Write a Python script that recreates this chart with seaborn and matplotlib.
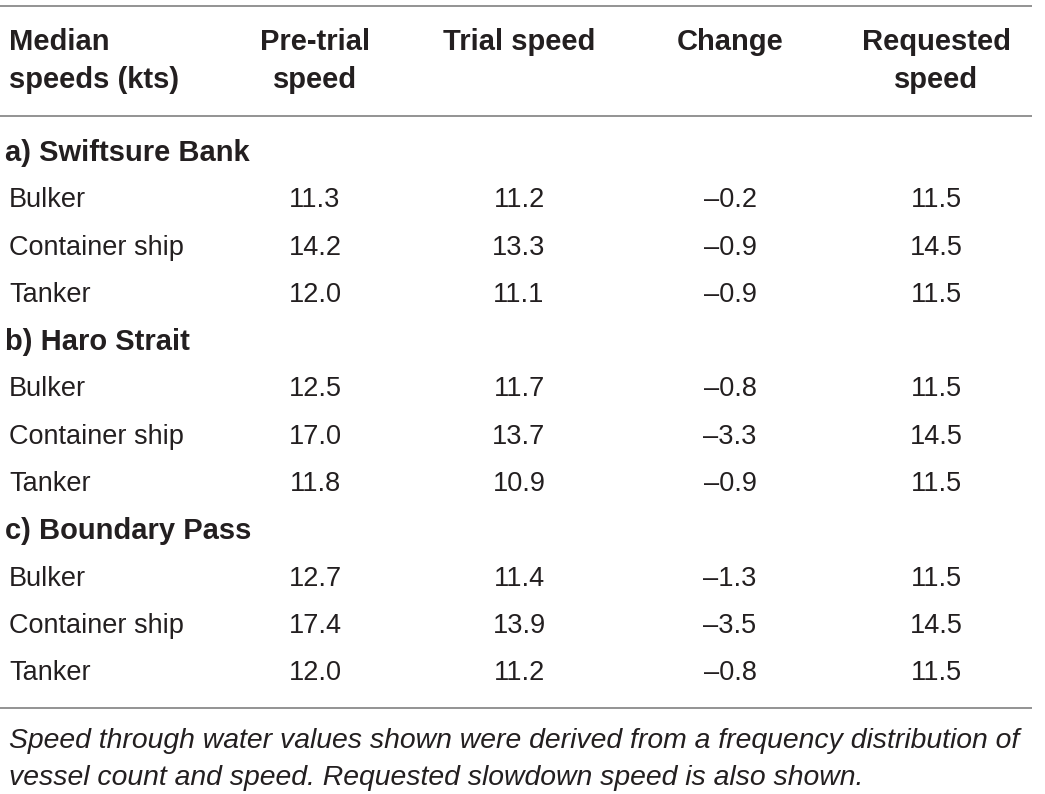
import matplotlib
matplotlib.use("Agg")
import matplotlib.pyplot as plt
import seaborn as sns

# ---- data ----
header_lines = [["Median", "speeds (kts)"], ["Pre-trial", "speed"], ["Trial speed"], ["Change"], ["Requested", "speed"]]
sections = ["a) Swiftsure Bank", "b) Haro Strait", "c) Boundary Pass"]
vessels = ["Bulker", "Container ship", "Tanker"]
pre_trial = [[11.3, 14.2, 12.0], [12.5, 17.0, 11.8], [12.7, 17.4, 12.0]]
trial = [[11.2, 13.3, 11.1], [11.7, 13.7, 10.9], [11.4, 13.9, 11.2]]
change = [[-0.2, -0.9, -0.9], [-0.8, -3.3, -0.9], [-1.3, -3.5, -0.8]]
requested = [[11.5, 14.5, 11.5], [11.5, 14.5, 11.5], [11.5, 14.5, 11.5]]
footnote = ["Speed through water values shown were derived from a frequency distribution of",
            "vessel count and speed. Requested slowdown speed is also shown."]

sns.set_theme(style="white")
plt.rcParams['font.family'] = ['Liberation Sans', 'DejaVu Sans']

W, H = 1045, 794
fig = plt.figure(figsize=(W / 100, H / 100), dpi=100)
ax = fig.add_axes([0, 0, 1, 1])
ax.set_xlim(0, W)
ax.set_ylim(H, 0)
ax.axis("off")

txt = "#231f20"
line_c = "#8a8a8a"
fs = 19.5
fs_h = 21

col_x = [9, 315, 519, 730, 936]

def fmt(v):
    s = f"{abs(v):.1f}"
    return ("\u2013" + s) if v < 0 else s

# rules
for y in (6, 116, 708):
    ax.plot([0, 1032], [y, y], color=line_c, lw=1.3, solid_capstyle="butt")

# header
for j, lines in enumerate(header_lines):
    for k, t in enumerate(lines):
        ax.text(col_x[j], 42 + 38 * k, t, ha="left" if j == 0 else "center",
                va="center", fontsize=fs_h, fontweight="bold", color=txt)

# body
row_h = 47.3
y0 = 153
r = 0
for s, sec in enumerate(sections):
    ax.text(5, y0 + r * row_h, sec, ha="left", va="center", fontsize=fs_h,
            fontweight="bold", color=txt)
    r += 1
    for i, v in enumerate(vessels):
        y = y0 + r * row_h
        ax.text(col_x[0], y, v, ha="left", va="center", fontsize=fs, color=txt)
        vals = [pre_trial[s][i], trial[s][i], change[s][i], requested[s][i]]
        for j, val in enumerate(vals):
            ax.text(col_x[j + 1], y, fmt(val), ha="center", va="center",
                    fontsize=fs, color=txt)
        r += 1

for k, t in enumerate(footnote):
    ax.text(9, 741 + 37 * k, t, ha="left", va="center", fontsize=20.4,
            fontstyle="italic", color=txt)

fig.savefig("out.png", dpi=100, facecolor="white")
